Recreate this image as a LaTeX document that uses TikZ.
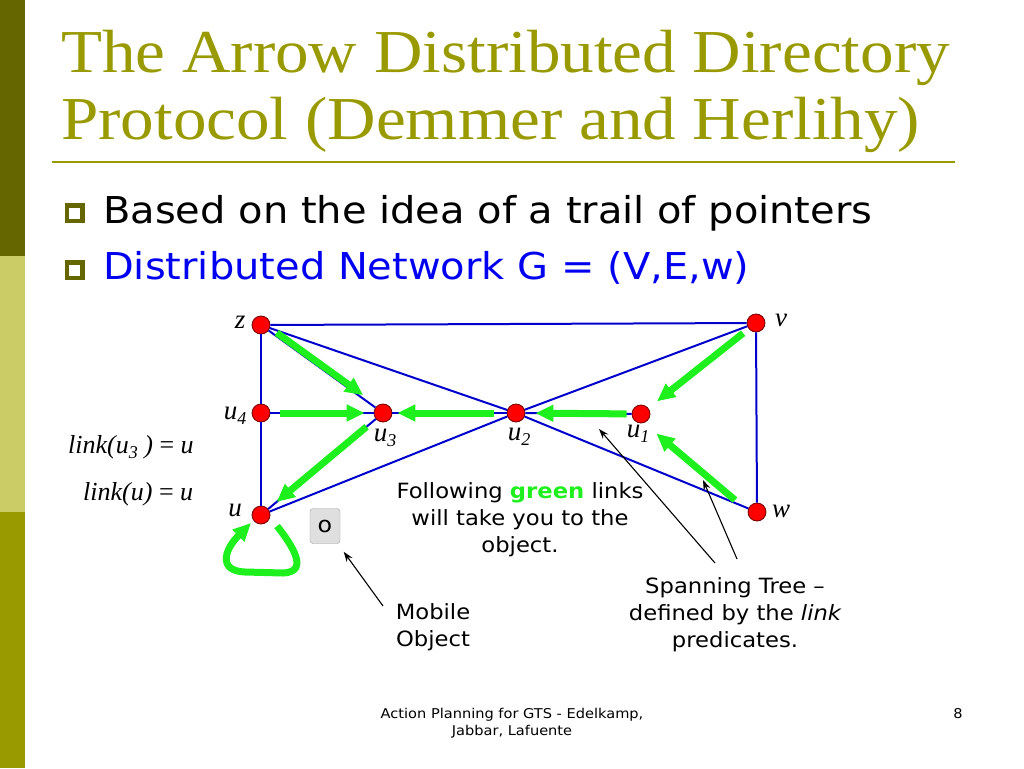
\documentclass[tikz,border=0pt]{standalone}
\usepackage{fontspec}
\setmainfont{Liberation Serif}
\setsansfont[FakeStretch=1.08]{DejaVu Sans}
\newfontfamily\titlefont[FakeStretch=1.1]{Liberation Serif}
\usetikzlibrary{arrows.meta,calc}
\definecolor{olivedark}{RGB}{102,102,0}
\definecolor{olivelight}{RGB}{204,204,102}
\definecolor{olivemid}{RGB}{153,153,0}
\definecolor{titlecol}{RGB}{153,153,0}
\definecolor{edgeblue}{RGB}{0,0,204}
\definecolor{linkgreen}{RGB}{30,240,30}
\definecolor{netblue}{RGB}{0,0,240}
\definecolor{vertborder}{RGB}{110,0,0}
\newcommand{\usub}[1]{u\raisebox{-5pt}{\fontsize{18}{18}\selectfont #1}}
\begin{document}
\begin{tikzpicture}[x=1pt,y=-1pt,
  vert/.style={circle, fill=red, draw=vertborder, line width=0.8pt, minimum size=18pt, inner sep=0},
  vlabel/.style={font=\fontsize{27}{27}\selectfont\itshape, inner sep=0},
  edge/.style={edgeblue, line width=2pt},
  glink/.style={linkgreen, line width=7pt, -{Triangle[length=18pt,width=16pt]}},
  pointer/.style={black, line width=1.1pt, -{Stealth[length=10pt,width=7pt]}},
  dtext/.style={font=\sffamily\fontsize{21}{27}\selectfont, align=center, inner sep=0, anchor=north},
  bullet/.style={olivedark, line width=4.5pt},
]
\useasboundingbox (0,0) rectangle (1024,768);
\fill[white] (0,0) rectangle (1024,768);
% sidebar
\fill[olivedark] (0,0) rectangle (25,256);
\fill[olivelight] (0,256) rectangle (25,512);
\fill[olivemid] (0,512) rectangle (25,768);

% title
\node[anchor=base west, inner sep=0, text=titlecol, font=\titlefont\fontsize{61}{61}\selectfont] (title1) at (61,72) {The Arrow Distributed Directory};
\node[anchor=base west, inner sep=0, text=titlecol, font=\titlefont\fontsize{61}{61}\selectfont] (title2) at (61,139) {Protocol (Demmer and Herlihy)};
\draw[titlecol, line width=2.5pt] (52,162) -- (955,162);

% bullets
\draw[bullet] (67,205.5) rectangle (82.5,221);
\draw[bullet] (67,262.5) rectangle (82.5,278);
\node[anchor=base west, inner sep=0, font=\sffamily\fontsize{37}{37}\selectfont] (b1) at (103,223) {Based on the idea of a trail of pointers};
\node[anchor=base west, inner sep=0, text=netblue, font=\sffamily\fontsize{37}{37}\selectfont] (b2) at (103,279) {Distributed Network G = (V,E,w)};

% vertices
\node[vert] (z) at (261,325) {};
\node[vert] (v) at (756,323) {};
\node[vert] (u4) at (261,413) {};
\node[vert] (u3) at (383,413) {};
\node[vert] (u2) at (516,413) {};
\node[vert] (u1) at (641,414) {};
\node[vert] (u) at (261,515) {};
\node[vert] (w) at (757,512) {};

% vertex labels
\node[vlabel] (lz) at (240,322) {z};
\node[vlabel] (lv) at (781,320) {v};
\node[vlabel] (lu4) at (235,416) {\usub{4}};
\node[vlabel] (lu3) at (385,438) {\usub{3}};
\node[vlabel] (lu2) at (519,437) {\usub{2}};
\node[vlabel] (lu1) at (638,434) {\usub{1}};
\node[vlabel] (lu) at (235,510) {u};
\node[vlabel] (lw) at (781,511) {w};

% blue edges
\draw[edge] (z) -- (v);
\draw[edge] (z) -- (u4);
\draw[edge] (u4) -- (u);
\draw[edge] (v) -- (w);
\draw[edge] (z) -- (u3);
\draw[edge] (u4) -- (u3);
\draw[edge] (u3) -- (u2);
\draw[edge] (u2) -- (u1);
\draw[edge] (u3) -- (u);
\draw[edge] (z) -- (u2);
\draw[edge] (u2) -- (w);
\draw[edge] (v) -- (u2);
\draw[edge] (u2) -- (u);

% green links
\draw[glink, shorten <=8pt, shorten >=17pt, transform canvas={shift={(1.6pt,2.4pt)}}] (z) -- (u3);
\draw[glink, shorten <=10pt, shorten >=9pt] (u4) -- (u3);
\draw[glink, shorten <=13pt, shorten >=5pt] (u2) -- (u3);
\draw[glink, shorten <=5pt, shorten >=10pt] (u1) -- (u2);
\draw[glink, shorten <=7pt, shorten >=11pt] (v) -- (u1);
\draw[glink, shorten <=15pt, shorten >=15pt, transform canvas={shift={(-3.3pt,-3.8pt)}}] (w) -- (u1);
\draw[glink, shorten <=12pt, shorten >=11pt] (u3) -- (u);
\coordinate (loopA) at (277,526);
\coordinate (loopB) at (251,523);
\draw[glink] (loopA) .. controls (292,545) and (310,572) .. (283,573) -- (245,572) .. controls (218,571) and (224,550) .. (loopB);

% mobile object
\node[draw=gray!75, fill=gray!25, rounded corners=3pt, minimum width=30pt, minimum height=35pt, inner sep=0, font=\sffamily\fontsize{22}{22}\selectfont] (obj) at (325,526) {o};

% texts
\node[dtext] (follow) at (520,482) {Following {\bfseries\color{linkgreen}green} links\\will take you to the\\object.};
\node[dtext] (mobile) at (433,603) {Mobile\\Object};
\node[dtext] (span) at (735,577) {Spanning Tree –\\defined by the {\itshape link}\\predicates.};

% pointers
\coordinate (mobA) at (383,606);
\draw[pointer, shorten >=10pt] (mobA) -- (obj);
\coordinate (spA) at (715,563);
\coordinate (spAt) at (599,429);
\coordinate (spB) at (737,559);
\coordinate (spBt) at (703,480);
\draw[pointer] (spA) -- (spAt);
\draw[pointer] (spB) -- (spBt);

% link predicates
\node[anchor=base west, inner sep=0, font=\fontsize{26}{26}\selectfont] (link1) at (68,453) {\itshape link(\usub{3} ) {\upshape =} u};
\node[anchor=base west, inner sep=0, font=\fontsize{26}{26}\selectfont] (link2) at (83,500) {\itshape link(u) {\upshape =} u};

% footer
\node[anchor=north, align=center, inner sep=0, font=\sffamily\fontsize{13.5}{17}\selectfont] (footer) at (512,708) {Action Planning for GTS - Edelkamp,\\Jabbar, Lafuente};
\node[anchor=base, inner sep=0, font=\sffamily\fontsize{13.5}{17}\selectfont] (page) at (958,718) {8};
\end{tikzpicture}
\end{document}
